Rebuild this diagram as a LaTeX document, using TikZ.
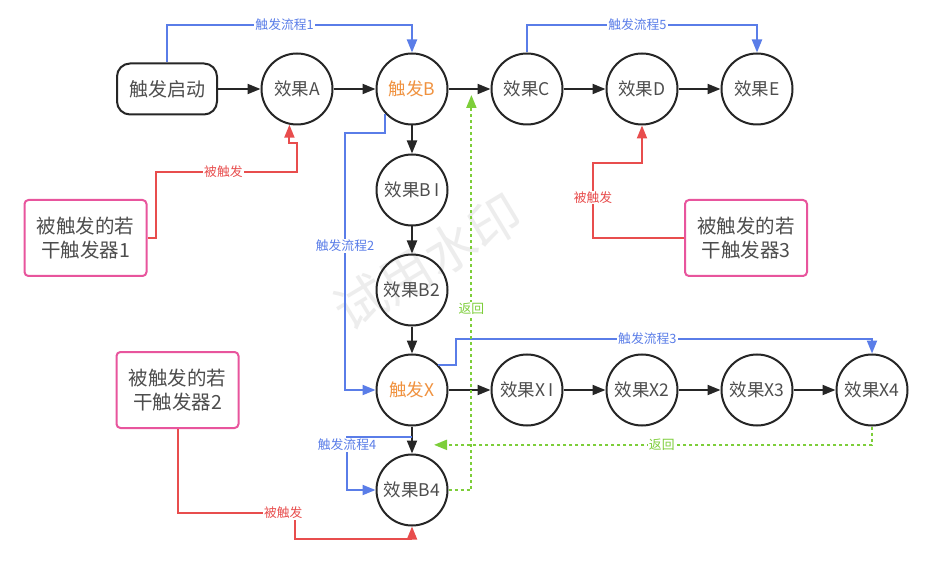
\documentclass[tikz,border=0pt]{standalone}
\usepackage{fontspec}
\setmainfont{Noto Sans CJK SC}
\usetikzlibrary{arrows.meta,calc}
\definecolor{ink}{HTML}{262626}
\definecolor{txt}{HTML}{4D4D4D}
\definecolor{bluel}{HTML}{5A7DE8}
\definecolor{redl}{HTML}{E84D4D}
\definecolor{greenl}{HTML}{7DCE3A}
\definecolor{pinkl}{HTML}{E8559D}
\definecolor{orangel}{HTML}{F0923F}
\begin{document}
\begin{tikzpicture}[x=1pt,y=-1pt,
  circ/.style={circle,draw=ink,line width=2pt,minimum size=71pt,inner sep=0pt,text=txt,font=\fontsize{17.5}{19}\selectfont},
  startbox/.style={rectangle,rounded corners=13pt,draw=ink,line width=2pt,minimum width=100pt,minimum height=51pt,text=txt,font=\fontsize{19}{21}\selectfont},
  trig/.style={rectangle,rounded corners=4pt,draw=pinkl,line width=2pt,minimum width=122pt,minimum height=76pt,text=txt,align=center,font=\fontsize{19.5}{24}\selectfont},
  blk/.style={draw=ink,line width=2pt,-{Triangle[length=13pt,width=10pt]}},
  bl/.style={draw=bluel,line width=2pt,-{Triangle[length=13pt,width=10pt]}},
  rd/.style={draw=redl,line width=2pt,-{Triangle[length=13pt,width=10pt]}},
  gr/.style={draw=greenl,line width=2pt,dash pattern=on 3pt off 3pt,-{Triangle[length=13pt,width=10pt]}},
  lbl/.style={fill=white,inner sep=1pt,font=\fontsize{12.8}{14}\selectfont},
]
\useasboundingbox (0,0) rectangle (932,564);
\fill[white] (0,0) rectangle (932,564);
% watermark
\node[rotate=31,text=black!7,font=\fontsize{52}{56}\selectfont] (wm) at (428,262) {试用水印};

% nodes
\node[startbox] (S) at (167,89) {触发启动};
\node[circ] (A) at (297,89) {效果A};
\node[circ,text=orangel] (B) at (412,89) {触发B};
\node[circ] (C) at (527,89) {效果C};
\node[circ] (D) at (642,89) {效果D};
\node[circ] (E) at (757,89) {效果E};
\node[circ] (B1) at (412,190) {效果B\,I};
\node[circ] (B2) at (412,290) {效果B2};
\node[circ,text=orangel] (X) at (412,390) {触发X};
\node[circ] (X1) at (527,390) {效果X\,I};
\node[circ] (X2) at (642,390) {效果X2};
\node[circ] (X3) at (757,390) {效果X3};
\node[circ] (X4) at (872,390) {效果X4};
\node[circ] (B4) at (412,490) {效果B4};
\node[trig] (T1) at (85.5,238) {被触发的若\\干触发器1};
\node[trig] (T3) at (746,238) {被触发的若\\干触发器3};
\node[trig] (T2) at (177.5,390) {被触发的若\\干触发器2};

% black flow
\draw[blk] (S) -- (A);
\draw[blk] (A) -- (B);
\draw[blk] (B) -- coordinate[pos=0.545] (bc) (C);
\draw[blk] (C) -- (D);
\draw[blk] (D) -- (E);
\draw[blk] (B) -- (B1);
\draw[blk] (B1) -- (B2);
\draw[blk] (B2) -- (X);
\draw[blk] (X) -- (X1);
\draw[blk] (X1) -- (X2);
\draw[blk] (X2) -- (X3);
\draw[blk] (X3) -- (X4);
\draw[blk] (X) -- coordinate[pos=0.4] (xb) coordinate[pos=0.68] (xg) (B4);

% blue flows
\draw[bl] (S.north) -- (S.north |- 0,25) -| node[lbl,text=bluel,pos=.24]{触发流程1} (B.north);
\draw[bl] (C.north) -- (C.north |- 0,25) -| node[lbl,text=bluel,pos=.24]{触发流程5} (E.north);
\draw[bl] (B.223) |- (345,133) |- node[lbl,text=bluel,pos=.22]{触发流程2} (X.west);
\draw[bl] (X.44) -| (456,339) -| node[lbl,text=bluel,pos=.23]{触发流程3} (X4.north);
\draw[bl] (xb) -| (347,490) -- (B4.west);
\node[lbl,text=bluel] (l4) at (347,445) {触发流程4};

% red triggers
\draw[rd] (T1.east) -- ++(8,0) |- node[lbl,text=redl,pos=.74]{被触发} (297,172) -- (297,143) -| (A.258);
\draw[rd] (T3.west) -| node[lbl,text=redl,pos=.77]{被触发} (593,163) -| (D.south);
\draw[rd] (T2.south) |- node[lbl,text=redl,pos=.95]{被触发} (295,513) |- (B4.south |- 0,539) -- (B4.south);

% green returns
\draw[gr] (B4.east) -| node[lbl,text=greenl,pos=.73]{返回} ($(bc)+(0,6)$);
\draw[gr] (X4.south) |- node[lbl,text=greenl,pos=.74]{返回} ($(xg)+(22,0)$);
\end{tikzpicture}
\end{document}
